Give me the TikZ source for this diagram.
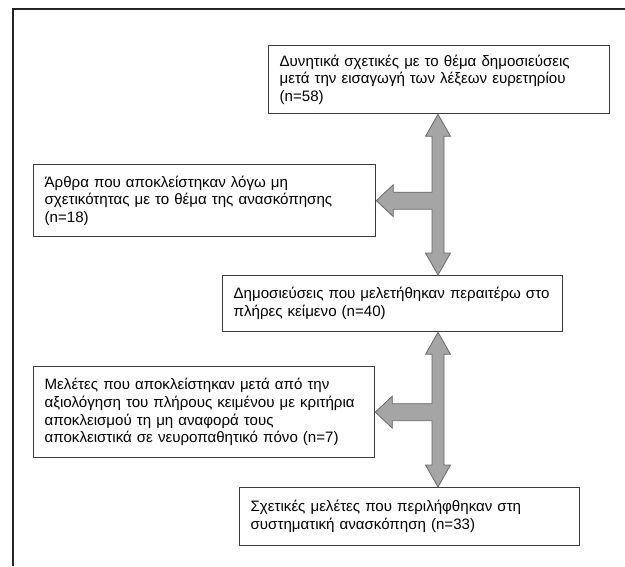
\documentclass[tikz,border=0pt]{standalone}
\usepackage{fontspec}
\setmainfont{Liberation Sans}
\usetikzlibrary{calc}
\definecolor{arrfill}{RGB}{165,165,165}
\definecolor{arrline}{RGB}{105,105,105}
\definecolor{boxline}{RGB}{60,60,60}
\tikzset{
  box/.style={draw=boxline, line width=1.3pt, anchor=north west, align=left,
    inner xsep=11pt, inner ysep=0pt, font=\fontsize{15.1}{17.6}\selectfont},
  fatarrow/.style={fill=arrfill, draw=arrline, line width=0.8pt, line join=miter},
  frame/.style={draw=black!85, line width=1.4pt}
}
\begin{document}
\begin{tikzpicture}[x=1pt, y=-1pt]
\useasboundingbox (0,0) rectangle (625,566);
\draw[frame] (13,566) -- (13,9) -- (625,9);

\node[box, minimum width=341, minimum height=68, text width=319] (b1) at (268,45)
  {Δυνητικά σχετικές με το θέμα δημοσιεύσεις\\μετά την εισαγωγή των λέξεων ευρετηρίου\\(n=58)};
\node[box, minimum width=342, minimum height=72, text width=320] (b2) at (33,164)
  {Άρθρα που αποκλείστηκαν λόγω μη\\σχετικότητας με το θέμα της ανασκόπησης\\(n=18)};
\node[box, minimum width=340, minimum height=56, text width=318] (b3) at (222,275)
  {Δημοσιεύσεις που μελετήθηκαν περαιτέρω στο\\πλήρες κείμενο (n=40)};
\node[box, minimum width=341, minimum height=91, text width=319] (b4) at (33,366)
  {Μελέτες που αποκλείστηκαν μετά από την\\αξιολόγηση του πλήρους κειμένου με κριτήρια\\αποκλεισμού τη μη αναφορά τους\\αποκλειστικά σε νευροπαθητικό πόνο (n=7)};
\node[box, minimum width=340, minimum height=58, text width=318] (b5) at (239,487)
  {Σχετικές μελέτες που περιλήφθηκαν στη\\συστηματική ανασκόπηση (n=33)};

\coordinate (axis) at (438,0);
% first T-arrow
\coordinate (t1) at (b1.south -| axis);
\coordinate (u1) at (b3.north -| axis);
\coordinate (l1) at (b2.east);
\coordinate (h1) at (l1 -| axis);
\draw[fatarrow] (t1) -- ($(t1)+(12.5,22)$) -- ($(t1)+(6,22)$) -- ($(u1)+(6,-22)$) -- ($(u1)+(12.5,-22)$)
  -- (u1) -- ($(u1)+(-12.5,-22)$) -- ($(u1)+(-6,-22)$) -- ($(h1)+(-6,8.5)$) -- ($(l1)+(17,8.5)$)
  -- ($(l1)+(17,16)$) -- (l1) -- ($(l1)+(17,-16)$) -- ($(l1)+(17,-8.5)$) -- ($(h1)+(-6,-8.5)$)
  -- ($(t1)+(-6,22)$) -- ($(t1)+(-12.5,22)$) -- cycle;
% second T-arrow
\coordinate (t2) at (b3.south -| axis);
\coordinate (u2) at (b5.north -| axis);
\coordinate (l2) at (b4.east);
\coordinate (h2) at (l2 -| axis);
\draw[fatarrow] (t2) -- ($(t2)+(12.5,22)$) -- ($(t2)+(6,22)$) -- ($(u2)+(6,-22)$) -- ($(u2)+(12.5,-22)$)
  -- (u2) -- ($(u2)+(-12.5,-22)$) -- ($(u2)+(-6,-22)$) -- ($(h2)+(-6,8.5)$) -- ($(l2)+(17,8.5)$)
  -- ($(l2)+(17,16)$) -- (l2) -- ($(l2)+(17,-16)$) -- ($(l2)+(17,-8.5)$) -- ($(h2)+(-6,-8.5)$)
  -- ($(t2)+(-6,22)$) -- ($(t2)+(-12.5,22)$) -- cycle;
\end{tikzpicture}
\end{document}
